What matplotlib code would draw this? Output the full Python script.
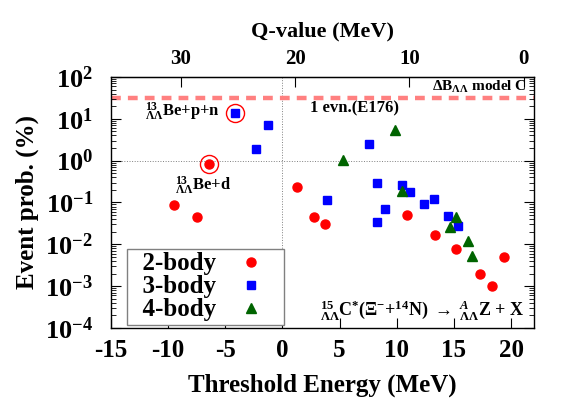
import numpy as np
import matplotlib
matplotlib.use('Agg')
import matplotlib.pyplot as plt
from matplotlib.ticker import FixedLocator, FuncFormatter, LogLocator, NullFormatter

# event probability (%) vs threshold energy (MeV)
two_body_E = [-9.45, -7.46, -6.41, 1.3, 2.77, 3.76, 10.9, 13.33, 15.2, 17.3, 18.3, 19.4]
two_body_P = [0.085, 0.044, 0.82, 0.24, 0.044, 0.031, 0.051, 0.017, 0.0077, 0.0020, 0.0010, 0.0049]

three_body_E = [-4.16, -2.30, -1.28, 3.88, 7.59, 8.29, 8.26, 8.96, 10.45, 11.2, 12.4, 13.3, 14.44, 15.37]
three_body_P = [13.8, 1.86, 7.0, 0.115, 2.54, 0.30, 0.034, 0.069, 0.26, 0.18, 0.093, 0.123, 0.048, 0.027]

four_body_E = [5.34, 9.86, 10.5, 14.64, 15.17, 16.2, 16.6]
four_body_P = [1.02, 5.5, 0.19, 0.026, 0.046, 0.012, 0.0052]

# candidate channels (circled)
circled_E = [-4.16, -6.41]
circled_P = [13.8, 0.82]

model_C = 31.0     # dB_LL model C level (%)
Q_offset = 21.1    # Q-value = Q_offset - threshold energy
x_ticks = [-15, -10, -5, 0, 5, 10, 15, 20]
q_ticks = [0, 10, 20, 30]

plt.rcParams['font.family'] = ['Liberation Serif', 'DejaVu Serif']
plt.rcParams['font.weight'] = 'bold'
plt.rcParams['axes.unicode_minus'] = False
plt.rcParams['mathtext.fontset'] = 'custom'
plt.rcParams['mathtext.rm'] = 'Liberation Serif:bold'
plt.rcParams['mathtext.bf'] = 'Liberation Serif:bold'
plt.rcParams['mathtext.it'] = 'Liberation Serif:italic:bold'

fig = plt.figure(figsize=(5.81, 4.07), dpi=100)
ax = fig.add_axes([0.191, 0.194, 0.728, 0.617])

ax.axhline(1.0, color='gray', ls=':', lw=0.7, zorder=0)
ax.axvline(0.0, color='gray', ls=':', lw=0.7, zorder=0)
ax.axhline(model_C, color='#ff8080', ls=(0, (2.2, 1.6)), lw=3.2, zorder=1)

ax.plot(two_body_E, two_body_P, 'o', color='red', ms=6.5, ls='none', label='  2-body')
ax.plot(three_body_E, three_body_P, 's', color='blue', ms=6, ls='none', label='  3-body')
ax.plot(four_body_E, four_body_P, '^', color='#006400', ms=7, ls='none', label='  4-body')
ax.plot(circled_E, circled_P, 'o', mfc='none', mec='red', ms=13, mew=1.0, ls='none')

ax.set_yscale('log')
ax.set_xlim(-15, 22)
ax.set_ylim(1e-4, 1e2)

ax.xaxis.set_major_locator(FixedLocator(x_ticks))
ax.xaxis.set_major_formatter(FuncFormatter(lambda v, p: '%d' % v))
ax.yaxis.set_major_locator(LogLocator(base=10, numticks=10))
ax.yaxis.set_minor_locator(LogLocator(base=10, subs=np.arange(2, 10), numticks=10))
ax.yaxis.set_minor_formatter(NullFormatter())
ax.yaxis.set_major_formatter(FuncFormatter(lambda v, p: r'$\mathbf{10^{%d}}$' % int(round(np.log10(v)))))
ax.tick_params(axis='both', which='both', direction='in')
ax.tick_params(axis='x', labelsize=18)
ax.tick_params(axis='y', labelsize=19, pad=13)
ax.tick_params(axis='y', which='both', right=True)
ax.tick_params(axis='y', which='major', length=7)
ax.tick_params(axis='y', which='minor', length=3.5)
ax.tick_params(axis='x', which='major', length=7, pad=8)

ax.set_xlabel('Threshold Energy (MeV)', fontsize=18, fontweight='bold', labelpad=8)
ax.set_ylabel('Event prob. (%)', fontsize=18, fontweight='bold', labelpad=4)

secax = ax.secondary_xaxis('top', functions=(lambda e: Q_offset - e, lambda q: Q_offset - q))
secax.xaxis.set_major_locator(FixedLocator(q_ticks))
secax.tick_params(direction='in', length=7, labelsize=15, pad=6)
secax.set_xlabel('Q-value (MeV)', fontsize=16, fontweight='bold', labelpad=9)

for sp in ax.spines.values():
    sp.set_linewidth(1.0)

ax.text(21.4, 57, r'$\Delta\mathbf{B}_{\Lambda\Lambda}$ model C', ha='right', va='center', fontsize=11)
ax.text(6.3, 17.5, '1 evn.(E176)', ha='center', va='center', fontsize=12)
ax.text(-5.5, 14.6, r'${}^{13}_{\Lambda\Lambda}$Be+p+n', ha='right', va='center', fontsize=12)
ax.text(-6.98, 0.25, r'${}^{13}_{\Lambda\Lambda}$Be+d', ha='center', va='center', fontsize=12)
ax.text(21.2, 2.7e-4, r'${}^{15}_{\Lambda\Lambda}$C$^{*}$($\Xi^{-}$+$^{14}$N) $\rightarrow$ ${}^{A}_{\Lambda\Lambda}$Z + X',
        ha='right', va='center', fontsize=13)

leg = ax.legend(loc='lower left', bbox_to_anchor=(0.037, 0.012), borderaxespad=0, markerfirst=False,
                fancybox=False, edgecolor='gray', framealpha=1, labelspacing=0.0,
                handlelength=2.3, handletextpad=0.25, borderpad=0.15, prop={'weight': 'bold', 'size': 18})
leg.get_frame().set_linewidth(1.0)

fig.savefig('out.png', dpi=100)
